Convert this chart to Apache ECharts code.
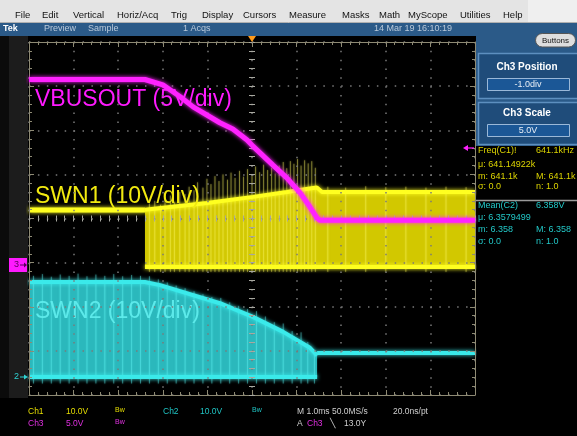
<!DOCTYPE html>
<html>
<head>
<meta charset="utf-8">
<title>VBUSOUT / SWN1 / SWN2</title>
<script src="https://cdn.jsdelivr.net/npm/echarts@6/dist/echarts.min.js"></script>
<style>
html,body{margin:0;padding:0;background:#000;overflow:hidden;}
#chart{width:577px;height:436px;}
</style>
</head>
<body>
<div id="chart"></div>
<script>
// ---------------- data: time in ms from trigger (1.0 ms/div), level in screen divisions from centre ----------------
const vbusT   = [-5.00, -2.40, -2.00, -1.61, -1.32, -0.72, -0.43, -0.11, 0.02, 0.47, 0.78, 1.08, 1.30, 1.46, 1.52, 5.00];
const vbusDiv = [ 3.15,  3.15,  3.03,  2.76,  2.53,  2.17,  2.03,  1.78, 1.64, 1.21, 0.92, 0.58, 0.26, 0.01, -0.04, -0.04];

const swn1IdleT   = [-5.00, -2.40];
const swn1IdleDiv = [ 0.19,  0.19];
const swn1TopT    = [-2.40, -1.01, 0.02, 0.78, 1.37, 1.46, 1.57, 5.00];
const swn1TopDiv  = [ 0.20,  0.35, 0.49, 0.60, 0.69, 0.70, 0.60, 0.60];
const swn1LowT    = [-2.40, 5.00];
const swn1LowDiv  = [-1.10, -1.10];
const swn1SpikeT   = [-2.30,-2.18,-2.05,-1.95,-1.83,-1.74,-1.62,-1.50,-1.41,-1.30,-1.22,-1.10,-1.01,-0.92,-0.83,-0.74,-0.65,-0.55,-0.47,-0.38,-0.28,-0.19,-0.10,0.00,0.08,0.17,0.26,0.35,0.44,0.52,0.61,0.70,0.78,0.86,0.94,1.02,1.10,1.18,1.26,1.34,1.42,1.70,2.10,2.55,3.00,3.45,3.90,4.35,4.80];
const swn1SpikeDiv = [ 0.34, 0.40, 0.31, 0.45, 0.52, 0.38, 0.60, 0.55, 0.72, 0.64, 0.82, 0.70, 0.90, 0.78, 0.96, 0.85, 1.00, 0.88, 1.04, 0.92, 1.08, 0.95, 1.12,1.00,1.18,1.05,1.22,1.10,1.15,1.02,1.20,1.28,1.14,1.30,1.24,1.35,1.20,1.32,1.25,1.30,1.15,0.72,0.70,0.73,0.71,0.72,0.70,0.72,0.71];

const swn2TopT    = [-5.00, -2.40, -2.06, -0.72, 0.02, 0.70, 1.30, 1.46];
const swn2TopDiv  = [-1.44, -1.44, -1.51, -1.92, -2.23, -2.57, -2.93, -3.10];
const swn2LowT    = [-5.00, 1.46];
const swn2LowDiv  = [-3.59, -3.59];
const swn2IdleT   = [1.46, 5.00];
const swn2IdleDiv = [-3.05, -3.05];
const swn2SpikeT   = [-4.9,-4.7,-4.5,-4.3,-4.1,-3.9,-3.7,-3.5,-3.3,-3.1,-2.9,-2.7,-2.5,-2.3,-2.1,-1.9,-1.7,-1.5,-1.3,-1.1,-0.9,-0.7,-0.5,-0.3,-0.1,0.1,0.3,0.5,0.7,0.9,1.1,1.25,1.40];
const swn2SpikeDiv = [-1.30,-1.26,-1.32,-1.27,-1.30,-1.25,-1.31,-1.27,-1.30,-1.26,-1.31,-1.28,-1.30,-1.31,-1.38,-1.45,-1.52,-1.58,-1.65,-1.72,-1.78,-1.80,-1.90,-1.98,-2.05,-2.10,-2.22,-2.35,-2.38,-2.55,-2.58,-2.80,-2.98];

const traceLabels = ['VBUSOUT (5V/div)', 'SWN1 (10V/div)', 'SWN2 (10V/div)'];
const menuItems = ['File','Edit','Vertical','Horiz/Acq','Trig','Display','Cursors','Measure','Masks','Math','MyScope','Utilities','Help'];
const statusItems = ['Tek','Preview','Sample','1 Acqs','14 Mar 19 16:10:19'];
const meas1 = [['Freq(C1)!','641.1kHz'],['\u03bc: 641.14922k',''],['m: 641.1k','M: 641.1k'],['\u03c3: 0.0','n: 1.0']];
const meas2 = [['Mean(C2)','6.358V'],['\u03bc: 6.3579499',''],['m: 6.358','M: 6.358'],['\u03c3: 0.0','n: 1.0']];
const chRow1 = [['Ch1','#e6de00'],['10.0V','#e6de00'],['Ch2','#1fc4c4'],['10.0V','#1fc4c4'],['M 1.0ms 50.0MS/s','#cfcfcf'],['20.0ns/pt','#cfcfcf']];
const chRow2 = [['Ch3','#e030e0'],['5.0V','#e030e0'],['A','#cfcfcf'],['Ch3','#e030e0'],['\u2572','#cfcfcf'],['13.0Y','#cfcfcf']];

// ---------------- styling / layout ----------------
const FONT = "'Liberation Sans', Arial, sans-serif";
const FRAME = '#8e8a74';
const DOT = '#7a7a7a';
const CROSS = '#a8a8a0';
const YEL = '#ffff20', YEL_FILL = '#d2c800';
const CYA = '#3aeaea', CYA_FILL = '#2bb8bc';
const MAG = '#ff22ff';

function zip(a, b) { return a.map((v, i) => [v, b[i]]); }

function xAxisDef(pos, onZero, inside, split) {
  return {
    type: 'value', gridIndex: 0, position: pos, min: -5, max: 5, interval: 1, z: 3,
    axisLine: { show: true, onZero: onZero, onZeroAxisIndex: 0, lineStyle: { color: onZero ? 'rgba(0,0,0,0)' : FRAME, width: 1 } },
    axisTick: { show: true, inside: inside, length: onZero ? 3 : 5, lineStyle: { color: onZero ? CROSS : FRAME, width: 1 } },
    minorTick: { show: true, splitNumber: 5, length: 3, lineStyle: { color: onZero ? CROSS : FRAME, width: 1 } },
    axisLabel: { show: false },
    splitLine: { show: split, lineStyle: { color: DOT, width: 1.5, type: [1.5, 7.325] } },
    minorSplitLine: { show: false }
  };
}
function yAxisDef(pos, onZero, inside, split) {
  return {
    type: 'value', gridIndex: 0, position: pos, min: -4, max: 4, interval: 1, z: 3,
    axisLine: { show: true, onZero: onZero, onZeroAxisIndex: 0, lineStyle: { color: onZero ? 'rgba(0,0,0,0)' : FRAME, width: 1 } },
    axisTick: { show: true, inside: inside, length: onZero ? 3 : 5, lineStyle: { color: onZero ? CROSS : FRAME, width: 1 } },
    minorTick: { show: true, splitNumber: 5, length: 3, lineStyle: { color: onZero ? CROSS : FRAME, width: 1 } },
    axisLabel: { show: false },
    splitLine: { show: split, lineStyle: { color: DOT, width: 1.5, type: [1.5, 7.42] } },
    minorSplitLine: { show: false }
  };
}

function bandSeries(topT, topDiv, lowT, lowDiv, fill) {
  return {
    type: 'custom', coordinateSystem: 'cartesian2d', xAxisIndex: 0, yAxisIndex: 0, silent: true, z: 2,
    data: [[0, 0]],
    renderItem: function (params, api) {
      const pts = [];
      for (let i = 0; i < topT.length; i++) pts.push(api.coord([topT[i], topDiv[i]]));
      for (let i = lowT.length - 1; i >= 0; i--) pts.push(api.coord([lowT[i], lowDiv[i]]));
      return { type: 'polygon', shape: { points: pts }, style: { fill: fill } };
    }
  };
}
function spikeSeries(ts, tips, base, color, opacity) {
  return {
    type: 'custom', coordinateSystem: 'cartesian2d', xAxisIndex: 0, yAxisIndex: 0, silent: true, z: 2,
    data: zip(ts, tips),
    renderItem: function (params, api) {
      const p1 = api.coord([api.value(0), api.value(1)]);
      const p2 = api.coord([api.value(0), base]);
      return { type: 'line', shape: { x1: p1[0], y1: p1[1], x2: p2[0], y2: p2[1] },
               style: { stroke: color, lineWidth: 0.9, opacity: opacity, shadowColor: color, shadowBlur: 2 } };
    }
  };
}
function traceLine(ts, vs, color, width, z) {
  return {
    type: 'line', xAxisIndex: 0, yAxisIndex: 0, data: zip(ts, vs), showSymbol: false, silent: true,
    z: z || 2, animation: false,
    lineStyle: { color: color, width: width, shadowColor: color, shadowBlur: 4 }
  };
}

// ---------------- graphic chrome ----------------
const G = [];
function rect(x, y, w, h, fill, extra) { G.push(Object.assign({ type: 'rect', shape: { x: x, y: y, width: w, height: h, r: (extra && extra.r) || 0 }, style: { fill: fill, stroke: extra && extra.stroke, lineWidth: (extra && extra.lw) || 1 }, z: (extra && extra.z) || 1, silent: true })); }
function text(x, y, s, color, size, extra) {
  extra = extra || {};
  G.push({ type: 'text', x: x, y: y, z: extra.z || 10, silent: true,
    style: { text: s, fill: color, font: (extra.weight || 'normal') + ' ' + size + 'px ' + FONT,
             textAlign: extra.align || 'left', textVerticalAlign: 'middle', opacity: extra.opacity == null ? 1 : extra.opacity } });
}
function poly(points, fill, z) { G.push({ type: 'polygon', shape: { points: points }, style: { fill: fill }, z: z || 10, silent: true }); }
function seg(x1, y1, x2, y2, color, w, z) { G.push({ type: 'line', shape: { x1: x1, y1: y1, x2: x2, y2: y2 }, style: { stroke: color, lineWidth: w || 1 }, z: z || 10, silent: true }); }

// menu bar
rect(0, 0, 577, 23, '#e4e4e4');
rect(528, 0, 49, 23, '#efefef');
seg(0, 22.5, 577, 22.5, '#b0b0b0', 1, 2);
const menuX = [15, 42, 73, 117, 171, 202, 243, 289, 342, 379, 408, 460, 503];
menuItems.forEach((m, i) => text(menuX[i], 15.5, m, '#111', 9.5));
// status bar
rect(0, 23, 577, 13, '#2b5a88');
const statusX = [3, 44, 88, 183, 374];
statusItems.forEach((s, i) => text(statusX[i], 29, s, i === 0 ? '#ffffff' : '#b9c9da', 9, { weight: i === 0 ? 'bold' : 'normal' }));
// right panel
rect(476, 36, 101, 110, '#2b5a88');
rect(478.5, 53.5, 100, 45, '#1f4c7a', { stroke: '#5d8fbf', lw: 1.5 });
text(527, 67, 'Ch3 Position', '#ffffff', 10, { weight: 'bold', align: 'center' });
rect(487.5, 78.5, 82, 12, '#1b5796', { stroke: '#9ab8d8', lw: 1 });
text(528, 84.5, '-1.0div', '#e8eef5', 9, { align: 'center' });
rect(478.5, 102.5, 100, 42, '#1f4c7a', { stroke: '#5d8fbf', lw: 1.5 });
text(527, 113, 'Ch3 Scale', '#ffffff', 10, { weight: 'bold', align: 'center' });
rect(487.5, 124.5, 82, 12, '#1b5796', { stroke: '#9ab8d8', lw: 1 });
text(528, 130.5, '5.0V', '#e8eef5', 9, { align: 'center' });
// Buttons pill
rect(535.5, 33.5, 40, 13.5, '#dedede', { stroke: '#555', lw: 1, r: 7, z: 5 });
text(555.5, 40.5, 'Buttons', '#111', 8, { align: 'center' });
// left strip
rect(0, 36, 9, 362, '#0b0b0b');
rect(9, 36, 19, 362, '#1c1c1c');
// measurements
const measY1 = [151, 165, 177, 187];
meas1.forEach((r, i) => { text(478, measY1[i], r[0], '#dcd400', 9); if (r[1]) text(536, measY1[i], r[1], '#dcd400', 9); });
seg(476, 200.5, 577, 200.5, '#9a9a9a', 1.5);
const measY2 = [206, 218, 230, 242];
meas2.forEach((r, i) => { text(478, measY2[i], r[0], '#22c8c8', 9); if (r[1]) text(536, measY2[i], r[1], '#22c8c8', 9); });
// bottom channel readout
const row1X = [28, 66, 163, 200, 297, 393];
chRow1.forEach((c, i) => text(row1X[i], 412, c[0], c[1], 8.5));
text(115, 410, 'Bw', '#e6de00', 7);
text(252, 410, 'Bw', '#1fc4c4', 7);
const row2X = [28, 66, 297, 307, 330, 344];
chRow2.forEach((c, i) => text(row2X[i], 424, c[0], c[1], 8.5));
text(115, 422, 'Bw', '#e030e0', 7);
// ground markers
rect(9, 258, 18, 14, '#ff1aff', { z: 10 });
text(14, 265, '3', '#5a005a', 9, { z: 11 });
seg(20, 265, 25, 265, '#5a005a', 1, 11);
poly([[27, 265], [24, 262.5], [24, 267.5]], '#5a005a', 11);
text(14, 377, '2', '#2fd2d2', 9);
seg(20, 377, 25, 377, '#2fd2d2', 1, 11);
poly([[28, 377], [24, 374.5], [24, 379.5]], '#2fd2d2', 11);
// trigger position / level markers
poly([[248, 36], [256, 36], [252, 42]], '#ff9a1a', 12);
poly([[463, 148], [468, 145], [468, 151]], '#ff22ff', 12);
seg(467, 148, 474, 148, '#ff22ff', 1.2, 12);
// trace labels
text(35, 100, traceLabels[0], '#ff1aff', 23, { z: 3 });
text(35, 197, traceLabels[1], '#f2ea10', 23, { z: 3 });
text(35, 312, traceLabels[2], '#62eeee', 23, { z: 3, opacity: 0.9 });

// ---------------- chart ----------------
const chart = echarts.init(document.getElementById('chart'), null, { renderer: 'canvas' });
chart.setOption({
  backgroundColor: '#000000',
  animation: false,
  grid: { left: 29, right: 102, top: 42, bottom: 41, containLabel: false, outerBoundsMode: 'none', show: false },
  xAxis: [
    xAxisDef('bottom', false, true, true),
    xAxisDef('top', false, true, false),
    xAxisDef('bottom', true, true, false),
    xAxisDef('bottom', true, false, false)
  ],
  yAxis: [
    yAxisDef('left', false, true, true),
    yAxisDef('right', false, true, false),
    yAxisDef('left', true, true, false),
    yAxisDef('left', true, false, false)
  ],
  graphic: { elements: G },
  series: [
    bandSeries(swn1TopT, swn1TopDiv, swn1LowT, swn1LowDiv, YEL_FILL),
    spikeSeries(swn1SpikeT, swn1SpikeDiv, -1.21, '#fbf560', 0.45),
    traceLine(swn1IdleT, swn1IdleDiv, YEL, 5),
    traceLine(swn1TopT, swn1TopDiv, YEL, 4),
    traceLine(swn1LowT, swn1LowDiv, YEL, 4),
    bandSeries(swn2TopT, swn2TopDiv, swn2LowT, swn2LowDiv, CYA_FILL),
    spikeSeries(swn2SpikeT, swn2SpikeDiv, -3.74, '#5ff2f2', 0.45),
    traceLine(swn2TopT, swn2TopDiv, CYA, 4),
    traceLine(swn2LowT, swn2LowDiv, CYA, 4),
    traceLine(swn2IdleT, swn2IdleDiv, CYA, 4),
    traceLine(vbusT, vbusDiv, MAG, 5, 4)
  ]
});
</script>
</body>
</html>
